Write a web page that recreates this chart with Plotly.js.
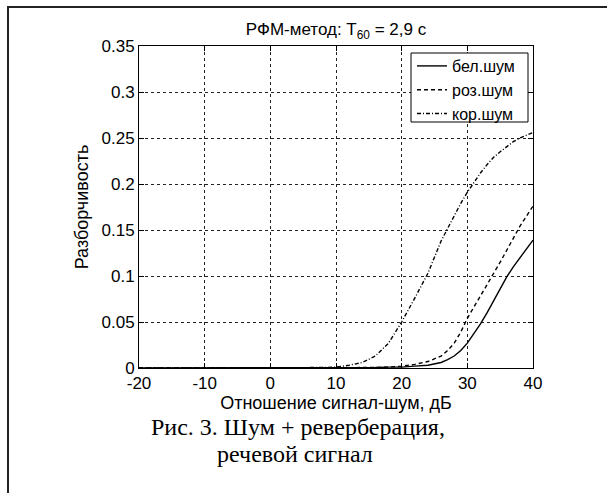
<!DOCTYPE html>
<html>
<head>
<meta charset="utf-8">
<script src="https://cdn.plot.ly/plotly-3.0.1.min.js"></script>
<style>
html,body{margin:0;padding:0;background:#fff;overflow:hidden;}
#frame{position:absolute;left:7px;top:6px;width:700px;height:600px;border-left:2px solid #222;border-top:2px solid #222;pointer-events:none;z-index:5;}
#chart{position:absolute;left:0;top:0;width:607px;height:493px;}
</style>
</head>
<body>
<div id="chart"></div>
<div id="frame"></div>
<script>
// Data
const snr = [-20, -10, 0, 5, 8, 10, 12, 14, 16, 18, 20, 22, 24, 26, 27, 28, 29, 30, 31, 32, 33, 34, 35, 36, 37, 38, 39, 40];
const whiteNoise = [0, 0, 0, 0, 0, 0, 0, 0, 0.0005, 0.001, 0.001, 0.002, 0.003, 0.006, 0.009, 0.013, 0.019, 0.027, 0.037, 0.048, 0.060, 0.073, 0.086, 0.099, 0.110, 0.120, 0.130, 0.139];
const pinkNoise  = [0, 0, 0, 0, 0, 0, 0, 0, 0.0005, 0.001, 0.002, 0.004, 0.007, 0.013, 0.019, 0.027, 0.039, 0.054, 0.066, 0.078, 0.090, 0.102, 0.115, 0.128, 0.141, 0.154, 0.165, 0.176];
const brownNoise = [0, 0, 0, 0, 0.0005, 0.001, 0.003, 0.006, 0.013, 0.027, 0.050, 0.076, 0.103, 0.138, 0.152, 0.166, 0.179, 0.191, 0.202, 0.212, 0.221, 0.229, 0.235, 0.241, 0.246, 0.250, 0.253, 0.256];
const seriesNames = ['бел.шум', 'роз.шум', 'кор.шум'];
const xTicks = [-20, -10, 0, 10, 20, 30, 40];
const yTicks = [0, 0.05, 0.1, 0.15, 0.2, 0.25, 0.3, 0.35];
const yTickText = ['0', '0.05', '0.1', '0.15', '0.2', '0.25', '0.3', '0.35'];

const F = 'Liberation Sans, Arial, sans-serif';
const SERIF = 'Liberation Serif, Times New Roman, serif';
const lineW = 1.4;
const traces = [
  {x: snr, y: whiteNoise, name: seriesNames[0], mode: 'lines', line: {color: '#000', width: lineW, dash: 'solid'}},
  {x: snr, y: pinkNoise, name: seriesNames[1], mode: 'lines', line: {color: '#000', width: lineW, dash: '4px,3px'}},
  {x: snr, y: brownNoise, name: seriesNames[2], mode: 'lines', line: {color: '#000', width: lineW, dash: '4px,2px,1px,2px'}}
];

const axisCommon = {
  showline: true, linecolor: '#000', linewidth: 1, mirror: 'ticks',
  ticks: 'inside', ticklen: 5, tickcolor: '#000', tickwidth: 1,
  showgrid: true, gridcolor: '#222', gridwidth: 1, griddash: '3px,3px',
  zeroline: false, tickfont: {family: F, size: 17, color: '#000'}
};

// pixel helpers for paper coordinates of the plot box (l=139, r=533, t=46, b=368)
const px = v => (v - 139) / 394;
const py = v => (368 - v) / 322;

const layout = {
  width: 607, height: 493,
  margin: {l: 139, r: 74, t: 46, b: 125},
  paper_bgcolor: '#fff', plot_bgcolor: '#fff',
  showlegend: true,
  title: {text: 'РФМ-метод: T<sub>60</sub> = 2,9 с', font: {family: F, size: 17, color: '#000'}, x: 0.5, xref: 'paper', xanchor: 'center', y: 1 - 29/493, yanchor: 'middle'},
  xaxis: Object.assign({}, axisCommon, {
    range: [-20, 40], tickvals: xTicks, ticktext: xTicks.map(String),
    title: {text: 'Отношение сигнал-шум, дБ', font: {family: F, size: 18, color: '#000'}, standoff: 1}
  }),
  yaxis: Object.assign({}, axisCommon, {
    range: [0, 0.35], tickvals: yTicks, ticktext: yTickText,
    title: {text: 'Разборчивость', font: {family: F, size: 18, color: '#000'}, standoff: 8}
  }),
  legend: {
    x: px(412), y: py(49), xanchor: 'left', yanchor: 'top',
    bgcolor: 'rgba(0,0,0,0)', bordercolor: '#000', borderwidth: 0,
    font: {family: F, size: 16, color: '#000'}, itemwidth: 30, tracegroupgap: 0
  },
  shapes: [
    {type: 'rect', xref: 'paper', yref: 'paper', x0: px(411), x1: px(528), y0: py(122), y1: py(53), line: {color: '#000', width: 1}, fillcolor: '#fff', layer: 'above'}
  ],
  annotations: [
    {text: 'Рис. 3. Шум + реверберация,', xref: 'paper', yref: 'paper', x: px(298), y: py(427), xanchor: 'center', yanchor: 'middle', showarrow: false, font: {family: SERIF, size: 24, color: '#000'}},
    {text: 'речевой сигнал', xref: 'paper', yref: 'paper', x: px(295), y: py(454), xanchor: 'center', yanchor: 'middle', showarrow: false, font: {family: SERIF, size: 24, color: '#000'}}
  ]
};

Plotly.newPlot('chart', traces, layout, {displayModeBar: false, staticPlot: true});
</script>
</body>
</html>
